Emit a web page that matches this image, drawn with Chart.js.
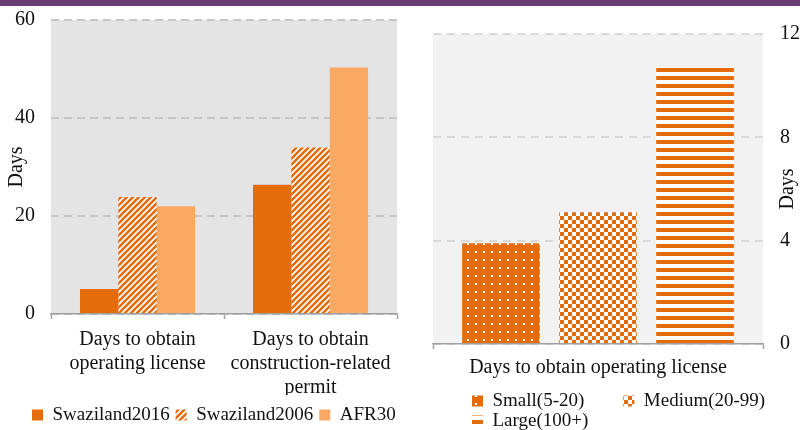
<!DOCTYPE html>
<html>
<head>
<meta charset="utf-8">
<script src="https://cdn.jsdelivr.net/npm/chart.js@4.4.1/dist/chart.umd.min.js"></script>
<style>
  html, body { margin: 0; padding: 0; background: #ffffff; width: 800px; height: 430px; overflow: hidden; }
  #band { position: absolute; left: 0; top: 0; width: 800px; height: 6px; background: #683f73; }
  #left { position: absolute; left: 0; top: 0; }
  #right { position: absolute; left: 400px; top: 0; }
</style>
</head>
<body>
<canvas id="left" width="400" height="430"></canvas>
<canvas id="right" width="400" height="430"></canvas>
<div id="band"></div>
<script>
// Left panel: days to obtain licenses and permits
const leftCategories = [
  ['Days to obtain', 'operating license'],
  ['Days to obtain', 'construction-related', 'permit']
];
const swaziland2016 = [5.1, 26.4];
const swaziland2006 = [23.9, 34.0];
const afr30 = [22.0, 50.3];
const leftTicks = [0, 20, 40, 60];

// Right panel: operating license by firm size
const rightCategories = ['Days to obtain operating license'];
const smallFirms = [3.9];
const mediumFirms = [5.1];
const largeFirms = [10.7];
const rightTicks = [0, 4, 8, 12];

const ORANGE = '#e46c0a';
const LIGHT_ORANGE = '#faa964';
const SERIF = '"Liberation Serif", "DejaVu Serif", serif';
const TEXT = '#111111';

// Small repeating tiles used as bar fills
function makePattern(w, h, paint) {
  const c = document.createElement('canvas');
  c.width = w; c.height = h;
  const g = c.getContext('2d');
  g.fillStyle = '#ffffff';
  g.fillRect(0, 0, w, h);
  g.fillStyle = ORANGE;
  g.strokeStyle = ORANGE;
  paint(g, w, h);
  return g.createPattern(c, 'repeat');
}
const diagonalFill = makePattern(6, 6, (g, s) => {
  g.lineWidth = 2.6;
  g.beginPath();
  g.moveTo(-1, s + 1); g.lineTo(s + 1, -1);
  g.moveTo(-1, 1); g.lineTo(1, -1);
  g.moveTo(s - 1, s + 1); g.lineTo(s + 1, s - 1);
  g.stroke();
});
const dottedFill = makePattern(8, 8, (g) => {
  g.fillRect(0, 0, 8, 8);
  g.fillStyle = '#ffffff';
  g.fillRect(3, 3, 2, 2);
});
const checkerFill = makePattern(8, 8, (g) => {
  g.fillRect(0, 0, 4, 4);
  g.fillRect(4, 4, 4, 4);
});
const stripeFill = makePattern(8, 8, (g) => {
  g.fillRect(0, 4, 8, 4);
});

// Shaded plot area behind the grid
const plotBackground = {
  id: 'plotBackground',
  beforeDraw(chart, args, opts) {
    const { ctx, chartArea: a } = chart;
    ctx.save();
    ctx.fillStyle = opts.color;
    ctx.fillRect(a.left, a.top, a.right - a.left, a.bottom - a.top);
    ctx.restore();
  }
};

// Puts the legend block where it belongs under the axis labels
const legendPlacement = {
  id: 'legendPlacement',
  afterLayout(chart, args, opts) {
    const lg = chart.legend;
    if (!lg) return;
    lg.left = opts.left;
    lg.top = opts.top;
    lg.right = chart.width + (opts.extraRight || 0);
    lg.bottom = chart.height;
  }
};

// Upright axis title for the right-hand value axis
const rightAxisTitle = {
  id: 'rightAxisTitle',
  afterDraw(chart, args, opts) {
    const scale = chart.scales.y;
    const { ctx, chartArea: a } = chart;
    ctx.save();
    ctx.translate(scale.right - opts.offset, (a.top + a.bottom) / 2);
    ctx.rotate(-Math.PI / 2);
    ctx.font = '20px ' + SERIF;
    ctx.fillStyle = TEXT;
    ctx.textAlign = 'center';
    ctx.textBaseline = 'middle';
    ctx.fillText(scale.options.title.text, 0, 0);
    ctx.restore();
  }
};

Chart.defaults.font.family = SERIF;
Chart.defaults.color = TEXT;

new Chart(document.getElementById('left'), {
  type: 'bar',
  data: {
    labels: leftCategories,
    datasets: [
      { label: 'Swaziland2016', data: swaziland2016, backgroundColor: ORANGE, borderWidth: 0 },
      { label: 'Swaziland2006', data: swaziland2006, backgroundColor: diagonalFill, borderWidth: 0 },
      { label: 'AFR30', data: afr30, backgroundColor: LIGHT_ORANGE, borderWidth: 0 }
    ]
  },
  plugins: [plotBackground, legendPlacement],
  options: {
    responsive: false,
    animation: false,
    devicePixelRatio: 1,
    layout: { padding: { top: 20, right: 2, left: 0, bottom: 0 } },
    datasets: { bar: { categoryPercentage: 0.665, barPercentage: 1.0 } },
    scales: {
      x: {
        grid: { offset: true, drawOnChartArea: false, drawTicks: true, tickLength: 5, tickColor: '#a0a0a0', tickWidth: 1.5 },
        border: { display: true, color: '#a0a0a0', width: 1.5 },
        ticks: { font: { size: 20, lineHeight: 1.2 }, color: TEXT, padding: 9, maxRotation: 0, autoSkip: false },
        afterFit(scale) { scale.height = 81; }
      },
      y: {
        min: 0, max: 60,
        afterBuildTicks(scale) { scale.ticks = leftTicks.map(v => ({ value: v })); },
        grid: { color: '#c6c6c6', lineWidth: 2, drawTicks: false },
        border: { display: false, dash: [8, 5] },
        ticks: { font: { size: 20 }, color: TEXT, padding: 16 },
        title: { display: true, text: 'Days', font: { size: 20, lineHeight: 1.2 }, color: TEXT, padding: { top: 5, bottom: 0 } },
        afterFit(scale) {
          scale.width = 51;
          // the layout padding already leaves room for the top and bottom labels
          scale.paddingTop = 0;
          scale.paddingBottom = 0;
        }
      }
    },
    plugins: {
      plotBackground: { color: '#e4e4e4' },
      legendPlacement: { left: 26, top: 399.5, extraRight: 60 },
      legend: {
        position: 'bottom',
        align: 'start',
        labels: { boxWidth: 11, boxHeight: 11, padding: 6, font: { size: 19 }, color: TEXT }
      },
      tooltip: { enabled: false }
    }
  }
});

new Chart(document.getElementById('right'), {
  type: 'bar',
  data: {
    labels: rightCategories,
    datasets: [
      { label: 'Small(5-20)', data: smallFirms, backgroundColor: dottedFill, borderWidth: 0 },
      { label: 'Medium(20-99)', data: mediumFirms, backgroundColor: checkerFill, borderWidth: 0 },
      { label: 'Large(100+)', data: largeFirms, backgroundColor: stripeFill, borderWidth: 0 }
    ]
  },
  plugins: [plotBackground, legendPlacement, rightAxisTitle],
  options: {
    responsive: false,
    animation: false,
    devicePixelRatio: 1,
    layout: { padding: { top: 34, right: 0, left: 33, bottom: 0 } },
    datasets: { bar: { categoryPercentage: 0.882, barPercentage: 0.8 } },
    scales: {
      x: {
        grid: { offset: true, drawOnChartArea: false, drawTicks: true, tickLength: 5, tickColor: '#a0a0a0', tickWidth: 1.5 },
        border: { display: true, color: '#a0a0a0', width: 1.5 },
        ticks: { font: { size: 20, lineHeight: 1.2 }, color: TEXT, padding: 7, maxRotation: 0, autoSkip: false },
        afterFit(scale) { scale.height = 36; }
      },
      y: {
        position: 'right',
        min: 0, max: 12,
        afterBuildTicks(scale) { scale.ticks = rightTicks.map(v => ({ value: v })); },
        grid: { color: '#d9d9d9', lineWidth: 2, drawTicks: false },
        border: { display: false, dash: [8, 6] },
        ticks: { font: { size: 20 }, color: TEXT, padding: 17 },
        title: { display: false, text: 'Days' },
        afterFit(scale) { scale.width = 37; }
      }
    },
    plugins: {
      plotBackground: { color: '#f2f2f2' },
      legendPlacement: { left: 71, top: 390.5 },
      rightAxisTitle: { offset: 12 },
      legend: {
        position: 'bottom',
        align: 'start',
        labels: {
          boxWidth: 11, boxHeight: 11, padding: 1, font: { size: 19 }, color: TEXT,
          generateLabels(chart) {
            const items = Chart.defaults.plugins.legend.labels.generateLabels(chart);
            // wider column after the first entry, so the last entry drops to a second row
            items[0].text += '\u2003\u2003';
            return items;
          }
        }
      },
      tooltip: { enabled: false }
    }
  }
});
</script>
</body>
</html>
